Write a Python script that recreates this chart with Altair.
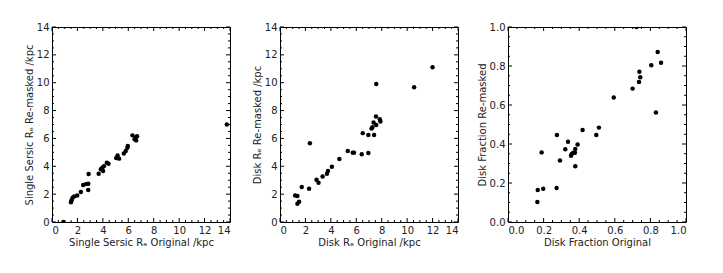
import altair as alt
import pandas as pd

# ---------------- data ----------------
p1_x = [0.9, 1.49, 1.54, 1.62, 1.75, 1.98, 2.27, 2.45, 2.67, 2.85, 2.85, 2.88, 3.67, 3.84, 3.95, 4.02,
        4.08, 4.31, 4.44, 5.05, 5.16, 5.28, 5.65, 5.8, 5.93, 5.96, 6.33, 6.5, 6.59, 6.69, 6.62, 13.75]
p1_y = [0.0, 1.41, 1.56, 1.75, 1.84, 1.91, 2.15, 2.65, 2.72, 2.75, 2.29, 3.45, 3.47, 3.78, 3.9, 3.66,
        4.01, 4.25, 4.18, 4.6, 4.78, 4.55, 4.92, 5.09, 5.33, 5.45, 6.22, 5.95, 6.09, 6.16, 5.86, 7.0]

p2_x = [1.19, 1.37, 1.37, 1.5, 1.71, 2.29, 2.35, 2.87, 3.03, 3.35, 3.69, 3.77, 4.08, 4.67, 5.33, 5.72,
        5.82, 6.43, 6.95, 6.51, 6.95, 7.4, 7.2, 7.27, 7.36, 7.55, 7.57, 7.85, 7.9, 7.57, 10.55, 12.0]
p2_y = [1.91, 1.86, 1.31, 1.46, 2.51, 2.39, 5.66, 3.03, 2.82, 3.27, 3.46, 3.66, 3.97, 4.52, 5.09, 4.98,
        4.98, 4.86, 4.95, 6.38, 6.25, 6.24, 6.72, 6.81, 7.15, 7.58, 6.97, 7.38, 7.22, 9.91, 9.68, 11.11]

p3_x = [0.165, 0.167, 0.198, 0.189, 0.273, 0.275, 0.292, 0.322, 0.337, 0.354, 0.358, 0.367, 0.376,
        0.378, 0.378, 0.391, 0.419, 0.496, 0.511, 0.594, 0.70, 0.736, 0.738, 0.743, 0.805, 0.841,
        0.86, 0.831, 0.722]
p3_y = [0.103, 0.164, 0.171, 0.357, 0.174, 0.446, 0.315, 0.373, 0.412, 0.34, 0.349, 0.355, 0.355,
        0.374, 0.286, 0.398, 0.472, 0.446, 0.484, 0.639, 0.684, 0.718, 0.771, 0.742, 0.804, 0.872,
        0.817, 0.561, 1.0]

# axis ticks
r_major = [0, 2, 4, 6, 8, 10, 12, 14]
r_minor = [0.5, 1, 1.5, 2.5, 3, 3.5, 4.5, 5, 5.5, 6.5, 7, 7.5, 8.5, 9, 9.5, 10.5, 11, 11.5,
           12.5, 13, 13.5]
f_major = [0.0, 0.2, 0.4, 0.6, 0.8, 1.0]
f_minor = [0.05, 0.1, 0.15, 0.25, 0.3, 0.35, 0.45, 0.5, 0.55, 0.65, 0.7, 0.75, 0.85, 0.9, 0.95]

W, H = 178, 195
FONT = "DejaVu Sans"
MAJ, MIN = 4, 2


def panel(xs, ys, dom, major, minor, fmt, xtitle, ytitle):
    pts = pd.DataFrame({"x": xs, "y": ys})
    xax = alt.Axis(title=xtitle, values=major, format=fmt, ticks=False, domain=False, grid=False,
                   labelPadding=3, titlePadding=2)
    yax = alt.Axis(title=ytitle, values=major, format=fmt, ticks=False, domain=False, grid=False,
                   labelPadding=3, titlePadding=2)
    sc = alt.Scale(domain=dom, nice=False, zero=False)
    X = alt.X("x:Q", scale=sc, axis=xax)
    Y = alt.Y("y:Q", scale=sc, axis=yax)

    layers = [alt.Chart(pts).mark_circle(size=20, color="black", opacity=1, clip=True).encode(x=X, y=Y)]
    for vals, ln in ((major, MAJ), (minor, MIN)):
        dx = pd.DataFrame({"x": vals})
        dy = pd.DataFrame({"y": vals})
        rule = dict(color="black", strokeWidth=1)
        layers.append(alt.Chart(dx).mark_rule(**rule).encode(x=X, y=alt.value(H), y2=alt.value(H - ln)))
        layers.append(alt.Chart(dx).mark_rule(**rule).encode(x=X, y=alt.value(0), y2=alt.value(ln)))
        layers.append(alt.Chart(dy).mark_rule(**rule).encode(y=Y, x=alt.value(0), x2=alt.value(ln)))
        layers.append(alt.Chart(dy).mark_rule(**rule).encode(y=Y, x=alt.value(W), x2=alt.value(W - ln)))
    return alt.layer(*layers).properties(width=W, height=H)


c1 = panel(p1_x, p1_y, [0, 14], r_major, r_minor, "d",
           "Single Sersic Rₑ Original /kpc", "Single Sersic Rₑ Re-masked /kpc")
c2 = panel(p2_x, p2_y, [0, 14], r_major, r_minor, "d",
           "Disk Rₑ Original /kpc", "Disk Rₑ Re-masked /kpc")
c3 = panel(p3_x, p3_y, [0, 1], f_major, f_minor, ".1f",
           "Disk Fraction Original", "Disk Fraction Re-masked")

chart = alt.hconcat(c1, c2, c3, spacing=50, bounds="flush").properties(
    padding={"left": 15, "top": 13, "right": 5, "bottom": 5},
    background="white",
).configure_view(stroke="black", strokeWidth=1).configure_axis(
    labelFont=FONT, titleFont=FONT, labelFontSize=10, titleFontSize=10,
    labelColor="#222", titleColor="#222", titleFontWeight="normal"
)

chart.save("out.html", embed_options={"renderer": "svg", "actions": False})
